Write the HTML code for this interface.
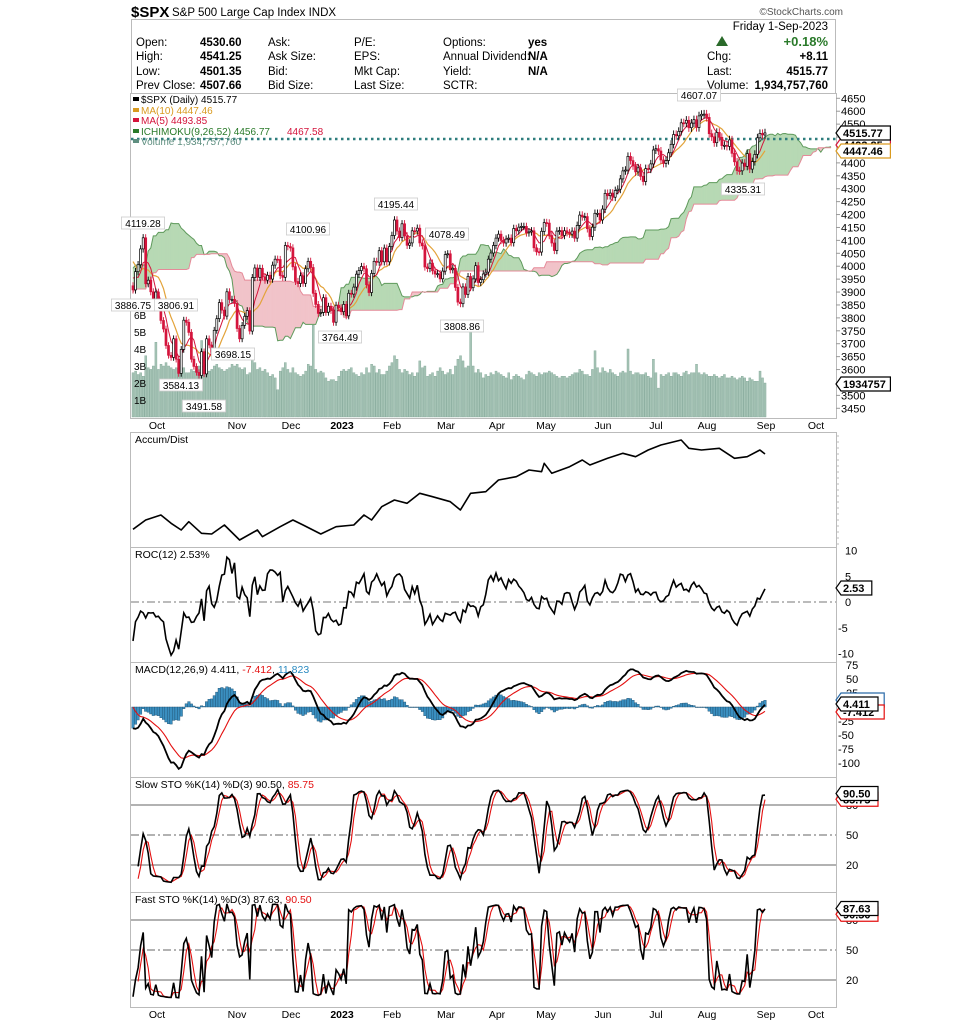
<!DOCTYPE html>
<html><head><meta charset="utf-8">
<style>
body{margin:0;background:#fff;}
svg{display:block;font-family:"Liberation Sans",sans-serif;}
</style></head>
<body>
<svg id="c" width="980" height="1021" viewBox="0 0 980 1021" xmlns="http://www.w3.org/2000/svg">
<rect width="980" height="1021" fill="#fff"/>
<g>
<text x="131" y="17" font-size="15" font-weight="bold">$SPX</text>
<text x="172" y="16" font-size="11.5">S&amp;P 500 Large Cap Index  INDX</text>
<text x="843" y="15" font-size="10" fill="#555" text-anchor="end">©StockCharts.com</text>
<rect x="131.5" y="19.5" width="704" height="74" fill="none" stroke="#bbb"/>
<g font-size="11.5">
<text x="136" y="46">Open:</text><text x="200" y="46" font-weight="bold">4530.60</text>
<text x="136" y="60">High:</text><text x="200" y="60" font-weight="bold">4541.25</text>
<text x="136" y="75">Low:</text><text x="200" y="75" font-weight="bold">4501.35</text>
<text x="136" y="89">Prev Close:</text><text x="200" y="89" font-weight="bold">4507.66</text>
<text x="268" y="46">Ask:</text><text x="268" y="60">Ask Size:</text><text x="268" y="75">Bid:</text><text x="268" y="89">Bid Size:</text>
<text x="354" y="46">P/E:</text><text x="354" y="60">EPS:</text><text x="354" y="75">Mkt Cap:</text><text x="354" y="89">Last Size:</text>
<text x="443" y="46">Options:</text><text x="443" y="60">Annual Dividend:</text><text x="443" y="75">Yield:</text><text x="443" y="89">SCTR:</text>
<text x="528" y="46" font-weight="bold">yes</text><text x="528" y="60" font-weight="bold">N/A</text><text x="528" y="75" font-weight="bold">N/A</text>
<text x="828" y="30" text-anchor="end">Friday  1-Sep-2023</text>
<polygon points="716,46 722,36 728,46" fill="#2a6a2a"/>
<text x="828" y="46" text-anchor="end" font-weight="bold" font-size="13" fill="#2a7a2a">+0.18%</text>
<text x="707" y="60">Chg:</text><text x="828" y="60" text-anchor="end" font-weight="bold">+8.11</text>
<text x="707" y="75">Last:</text><text x="828" y="75" text-anchor="end" font-weight="bold">4515.77</text>
<text x="707" y="89">Volume:</text><text x="828" y="89" text-anchor="end" font-weight="bold">1,934,757,760</text>
</g>
</g>
<g id="g"></g>
</svg>
<script>
// ---- data ----
const preCloses=[3750,3735,3790,3667,3675,3765,3760,3795,3912,3900,3821,3818,3785,3825,3831,3845,3902,3899,3854,3801,3790,3863,3830,3936,3959,3998,3962,3967,3961,3966,3921,4023,4072,4130,4118,4155,4145,4151,4140,4122,4210,4207,4280,4280,4305,4274,4283,4297,4228,4137,4128,4140,4199,4057,4030,3986,3955,4015,3966,3924];
const closes=[3908,3979,4006,4067,4110,3932,3946,3901,3873,3900,3856,3790,3757,3693,3655,3647,3719,3640,3585,
3678,3791,3783,3744,3640,3612,3589,3577,3669,3583,3719,3695,3666,3752,3797,3859,3830,3807,3901,3871,3872,
3856,3759,3719,3771,3806,3828,3749,3956,3993,3957,3992,3959,3946,3965,3950,4004,4027,4026,3964,3957,4080,
4076,4071,3998,3941,3933,3963,3934,3990,4019,3995,3895,3852,3817,3821,3878,3822,3845,3829,3783,3849,3839,
3824,3852,3808,3895,3892,3919,3969,3983,3999,3990,3928,3898,3972,4019,4016,4060,4017,4070,4017,4076,
4119,4179,4136,4111,4164,4117,4081,4090,4137,4136,4147,4090,4079,3997,3991,4012,3982,3970,3971,
3951,3981,4045,4048,3986,3992,3918,3861,3855,3920,3891,3960,3917,3951,4002,3937,3948,3970,3977,4027,4051,4080,4109,
4124,4100,4090,4105,4109,4091,4146,4137,4151,4154,4154,4129,4133,4137,4071,4056,4055,4135,4169,
4167,4119,4090,4061,4136,4138,4119,4137,4130,4124,4136,4109,4158,4198,4191,4192,4145,4115,4151,4205,4205,4179,
4221,4282,4273,4283,4267,4293,4298,4338,4369,4372,4425,4409,4388,4365,4381,4348,4328,4378,4376,4396,4450,
4455,4446,4411,4398,4409,4439,4472,4510,4505,4522,4555,4554,4565,4536,4554,4567,4537,4582,4588,4589,
4576,4513,4501,4478,4518,4499,4467,4468,4464,4489,4437,4404,4370,4369,4399,4387,4436,4376,4405,4433,4497,4514,4508,
4516];
const volumes=[2.6,2.7,2.5,2.6,2.4,3.6,2.9,2.8,3.0,4.4,2.8,3.1,3.0,3.2,3.0,2.9,2.8,2.9,3.0,
2.9,2.9,2.6,2.6,2.8,2.7,2.7,3.0,4.5,3.0,2.8,2.7,2.8,3.0,3.1,2.9,2.8,2.7,2.8,2.9,3.1,
3.0,3.1,2.9,2.8,2.9,2.5,2.6,3.6,3.2,2.8,2.9,2.7,2.8,2.6,2.4,2.5,2.3,1.6,2.7,2.9,3.2,
2.8,2.6,2.9,2.6,2.5,2.4,2.5,2.7,3.1,3.0,5.4,2.8,2.6,2.7,2.6,2.3,2.1,2.2,2.2,2.1,2.4,
2.7,2.8,2.7,2.8,2.9,2.6,2.5,2.4,2.6,2.5,2.9,2.6,3.1,3.0,2.6,2.8,2.5,2.5,2.7,3.0,
3.2,3.6,3.4,2.8,2.6,2.8,2.7,2.5,2.6,2.4,2.6,3.3,2.9,3.0,2.4,2.5,2.6,2.4,2.7,
2.9,2.7,2.5,2.6,2.8,2.5,3.0,3.4,3.6,3.3,2.9,3.0,5.1,3.0,2.6,2.8,2.6,2.3,2.5,2.4,2.6,2.5,2.7,
2.6,2.5,2.4,2.3,2.6,2.2,2.4,2.5,2.4,2.3,2.2,2.5,2.7,2.6,2.5,2.4,2.6,2.5,2.6,
2.6,2.7,2.6,2.5,2.4,2.3,2.4,2.4,2.3,2.4,2.5,2.6,2.6,2.8,2.7,2.5,2.5,2.4,2.8,3.9,2.9,2.6,
2.9,2.7,2.6,2.8,2.6,2.5,2.4,2.6,2.7,2.6,4.0,2.7,2.5,2.6,2.6,2.5,2.5,2.6,2.4,2.3,3.4,
2.6,1.7,2.5,2.4,2.5,2.6,2.4,2.6,2.6,2.5,2.4,2.6,2.7,2.5,2.6,2.6,3.1,2.6,2.5,2.6,
2.5,2.4,2.4,2.5,2.4,2.3,2.4,2.5,2.3,2.3,2.4,2.3,2.2,2.3,2.4,2.3,2.1,2.3,2.2,2.1,2.1,2.7,2.3,
2.0];
// Accum/Dist readings (bar index, value in arbitrary units)
const adBars=[0,5,11,15,19,22,27,31,36,42,49,51,58,63,67,74,80,87,91,94,98,103,108,113,118,125,129,133,139,144,151,156,161,162,165,172,177,180,187,193,198,203,208,216,219,224,231,237,242,247,249];
const adVals=[107,200,250,167,100,183,67,60,150,0,100,33,133,200,150,60,133,150,250,200,333,400,367,467,433,383,300,467,483,600,633,700,683,767,667,733,800,750,817,867,833,900,950,1000,917,900,917,817,833,900,860];
const priceTicks=[4650,4600,4550,4500,4450,4400,4350,4300,4250,4200,4150,4100,4050,4000,3950,3900,3850,3800,3750,3700,3650,3600,3550,3500,3450];
const volTicks=["1B","2B","3B","4B","5B","6B"];
const monthLabels=["Oct","Nov","Dec","2023","Feb","Mar","Apr","May","Jun","Jul","Aug","Sep","Oct"];
const monthX=[157,237,291,342,392,446,497,546,603,656,707,766,816];
const rocTicks=[10,5,0,-5,-10];
const macdTicks=[75,50,25,-25,-50,-75,-100];
const stoTicks=[80,50,20];

// ---- helpers ----
const NS="http://www.w3.org/2000/svg";
const G=document.getElementById('g');
function el(tag,attrs,parent,txt){const e=document.createElementNS(NS,tag);for(const k in attrs)e.setAttribute(k,attrs[k]);if(txt!==undefined)e.textContent=txt;(parent||G).appendChild(e);return e;}
const P=preCloses.length, N=closes.length;
const full=preCloses.concat(closes);
const F=full.length;
const O=[],H=[],L=[];
for(let i=0;i<F;i++){const o=i?full[i-1]:full[i];const c=full[i];const pad=c*0.0035;O.push(o);H.push(Math.max(o,c)+pad);L.push(Math.min(o,c)-pad);}
const s=632/(N-1);
const px=i=>133+i*s;
const py=p=>98.3+(4650-p)*0.25833;
const vy=v=>417-v*17;
const adY=v=>540-v/10;
const rocY=v=>602-v*5.15;
const macdY=v=>707-v*0.56;
const slowY=v=>865-(v-20);
const fastY=v=>980-(v-20);
function sma(a,n){return a.map((_,i)=>{if(i<n-1)return null;let t=0;for(let k=i-n+1;k<=i;k++)t+=a[k];return t/n;});}
function ema(a,n){const r=[];const k=2/(n+1);let e=null;a.forEach((v,i)=>{if(v==null){r.push(null);return;}e=e==null?v:v*k+e*(1-k);r.push(e);});return r;}
function hh(i,n){let m=-1e9;for(let k=Math.max(0,i-n+1);k<=i;k++)m=Math.max(m,H[k]);return m;}
function ll(i,n){let m=1e9;for(let k=Math.max(0,i-n+1);k<=i;k++)m=Math.min(m,L[k]);return m;}
function clip(id,x,y,w,h){const d=el('defs',{});const cp=el('clipPath',{id:id},d);el('rect',{x:x,y:y,width:w,height:h},cp);}
function linePath(vals,fx,fy){let d='';vals.forEach((v,i)=>{if(v==null)return;d+=(d?'L':'M')+fx(i).toFixed(1)+','+fy(v).toFixed(1);});return d;}

// ---- panels frames ----
const panels=[[93,418,'main-price-panel'],[432,547,'accum-dist-panel'],[547,662,'roc-panel'],[662,777,'macd-panel'],[777,892,'slow-sto-panel'],[892,1007,'fast-sto-panel']];
panels.forEach(p=>{const r=el('rect',{x:130.5,y:p[0]+0.5,width:706,height:p[1]-p[0],fill:'none',stroke:'#bbb'});

});
clip('cm',131,94,705,324);clip('ca',131,433,705,114);clip('cr',131,548,705,114);clip('cmacd',131,663,705,114);clip('cs',131,778,705,114);clip('cf',131,893,705,114);

// ---- month labels ----
[[425,'x-axis-top'],[1014,'x-axis-bottom']].forEach(r=>{
 monthLabels.forEach((m,i)=>{const t=el('text',{x:monthX[i],y:r[0]+4,'font-size':10.5,'text-anchor':'middle','font-weight':m==='2023'?'bold':'normal'},G,m);
 
 });
});

// ---- main panel ----
const gm=el('g',{'clip-path':'url(#cm)'});
const gv=el('g',{},gm);
closes.forEach((c,i)=>{const v=volumes[i]!=null?volumes[i]:2.4;const b=el('rect',{x:(px(i)-s/2+0.3).toFixed(1),y:vy(v).toFixed(1),width:(s-0.5).toFixed(2),height:(417-vy(v)).toFixed(1),fill:'#a6c4b6',stroke:'#7fa595','stroke-width':0.4},gv);

});
volTicks.forEach((t,i)=>{const e=el('text',{x:134,y:vy(i+1)+4,'font-size':10},G,t);

});
// ichimoku
const conv=[],base=[],spanA=[],spanB=[];
for(let i=0;i<F;i++){conv.push((hh(i,9)+ll(i,9))/2);base.push((hh(i,26)+ll(i,26))/2);}
for(let j=0;j<N+26;j++){const k=j+P-26;if(k<0||k>=F){spanA.push(null);spanB.push(null);continue;}spanA.push((conv[k]+base[k])/2);spanB.push((hh(k,52)+ll(k,52))/2);}
const gc=el('g',{},gm);
for(let j=0;j<N+25;j++){const a0=spanA[j],a1=spanA[j+1],b0=spanB[j],b1=spanB[j+1];if(a0==null||a1==null)continue;
 const green=(a0+a1)>=(b0+b1);
 const q=el('polygon',{points:`${px(j)},${py(a0)} ${px(j+1)},${py(a1)} ${px(j+1)},${py(b1)} ${px(j)},${py(b0)}`,fill:green?'#b7d9b4':'#f1c3c9',stroke:green?'#b7d9b4':'#f1c3c9','stroke-width':0.5},gc);
 
 }
const la=el('path',{d:linePath(spanA,px,py),fill:'none',stroke:'#5f9a5c','stroke-width':1},gm);


const lb=el('path',{d:linePath(spanB,px,py),fill:'none',stroke:'#e58a99','stroke-width':1},gm);


const dl=el('line',{x1:131,x2:836,y1:139,y2:139,stroke:'#2e7d7d','stroke-width':2.5,'stroke-dasharray':'2.5,3.5'},gm);


const ma10=sma(full,10).slice(P), ma5=sma(full,5).slice(P);
const m10=el('path',{d:linePath(ma10,px,py),fill:'none',stroke:'#e3a33a','stroke-width':1.2},gm);


const m5=el('path',{d:linePath(ma5,px,py),fill:'none',stroke:'#d4143c','stroke-width':1},gm);


closes.forEach((c,i)=>{const k=i+P;const o=O[k];const up=c>=o;const col=up?'#000':'#d4143c';const x=px(i);
 const w=el('line',{x1:x,x2:x,y1:py(H[k]).toFixed(1),y2:py(L[k]).toFixed(1),stroke:col,'stroke-width':0.9},gm);
 
 
 const top=py(Math.max(o,c)),bh=Math.max(1,py(Math.min(o,c))-top);
 const b=el('rect',{x:(x-1).toFixed(1),y:top.toFixed(1),width:2,height:bh.toFixed(1),fill:up?'#fff':col,stroke:col,'stroke-width':0.7},gm);
 
 });
priceTicks.forEach(t=>{const y=py(t);el('line',{x1:836,x2:840,y1:y,y2:y,stroke:'#999'});
 const e=el('text',{x:841,y:y+4,'font-size':11},G,t);
 
 });
const ann=[["4119.28",143,227],["3886.75",133,309],["3806.91",176,309],["3584.13",181,389],["3491.58",204,410],["3698.15",233,358],["4100.96",308,233],["3764.49",340,341],["4195.44",396,208],["4078.49",447,238],["3808.86",462,330],["4607.07",699,99],["4335.31",743,193]];
ann.forEach(a=>{const w=a[0].length*5.6+4;const r=el('rect',{x:a[1]-w/2,y:a[2]-10,width:w,height:12,fill:'#fff',stroke:'#ccc','stroke-width':0.8});
 
 
 const t=el('text',{x:a[1],y:a[2],'font-size':10,'text-anchor':'middle'},G,a[0]);
 
 });
const leg=[["$SPX (Daily) 4515.77","#000",103],["MA(10) 4447.46","#d99a20",114],["MA(5) 4493.85","#d4143c",124],["ICHIMOKU(9,26,52) 4456.77 ","#2a7a2a",135],["Volume 1,934,757,760","#5f8f80",145]];
leg.forEach(l=>{const t=el('text',{x:141,y:l[2],'font-size':10,fill:l[1]},G,l[0]);
 
 
 el('rect',{x:133,y:l[2]-6,width:6,height:4,fill:l[1]});});
el('text',{x:287,y:135,'font-size':10,fill:'#d4143c'},G,'4467.58');
function tag(y,txt,col,name,fs){const w=txt.length*6.2+6;const p=el('polygon',{points:`836,${y} 841,${y-7} ${841+w},${y-7} ${841+w},${y+7} 841,${y+7}`,fill:'#fff',stroke:col,'stroke-width':1.2});
 
 
 const t=el('text',{x:843,y:y+4,'font-size':fs||11,'font-weight':'bold'},G,txt);
 
 }
tag(145,'4493.85','#d4143c','ma5-tag');tag(151,'4447.46','#d99a20','ma10-tag');tag(133,'4515.77','#000','last-price-tag');tag(384,'1934757','#000','volume-tag');

// ---- Accum/Dist ----
let adD='';adBars.forEach((b,i)=>{adD+=(i?'L':'M')+px(b).toFixed(1)+','+adY(adVals[i]).toFixed(1);});
const adL=el('path',{d:adD,fill:'none',stroke:'#000','stroke-width':1.6,'clip-path':'url(#ca)','stroke-linejoin':'round'});


const adT=el('text',{x:135,y:443,'font-size':10.5},G,'Accum/Dist');


for(let y=436;y<547;y+=6)el('line',{x1:836,x2:839,y1:y,y2:y,stroke:'#bbb'});

// ---- ROC ----
const roc=closes.map((c,i)=>{const k=i+P;return (c/full[k-12]-1)*100;});
el('line',{x1:131,x2:836,y1:rocY(0),y2:rocY(0),stroke:'#777','stroke-dasharray':'8,3,2,3'});
const rl=el('path',{d:linePath(roc,px,rocY),fill:'none',stroke:'#000','stroke-width':1.6,'clip-path':'url(#cr)'});


rocTicks.forEach(t=>{const e=el('text',{x:t<0?838:845,y:rocY(t)+4,'font-size':11},G,t);
 
 });
const rt=el('text',{x:135,y:558,'font-size':10.5},G,'ROC(12) 2.53%');


tag(588,'2.53','#000','roc-tag');

// ---- MACD ----
const e12=ema(full,12),e26=ema(full,26);const macdFull=full.map((_,i)=>e12[i]-e26[i]);const sigFull=ema(macdFull,9);
const macd=macdFull.slice(P),sig=sigFull.slice(P);const hist=macd.map((m,i)=>m-sig[i]);
const gh=el('g',{'clip-path':'url(#cmacd)'});
hist.forEach((h,i)=>{const y0=macdY(0),y1=macdY(h);const b=el('rect',{x:(px(i)-s/2).toFixed(1),y:Math.min(y0,y1).toFixed(1),width:s.toFixed(2),height:Math.max(0.5,Math.abs(y1-y0)).toFixed(1),fill:'#3a8fc0',stroke:'#1d4f70','stroke-width':0.4},gh);
 
 });
const sl=el('path',{d:linePath(sig,px,macdY),fill:'none',stroke:'#e41010','stroke-width':1.1},gh);


const ml=el('path',{d:linePath(macd,px,macdY),fill:'none',stroke:'#000','stroke-width':1.8},gh);


macdTicks.forEach(t=>{const e=el('text',{x:t<0?838:846,y:macdY(t)+4,'font-size':11},G,t);
 
 });
const mt=el('text',{x:135,y:673,'font-size':10.5},G);


el('tspan',{},mt,'MACD(12,26,9) 4.411, ');el('tspan',{fill:'#e41010'},mt,'-7.412');el('tspan',{},mt,', ');el('tspan',{fill:'#2a8ac0'},mt,'11.823');
tag(700,'11.823','#2a6aa8','macd-hist-tag');tag(712,'-7.412','#e41010','macd-signal-tag');tag(704,'4.411','#000','macd-tag');

// ---- Stochastics ----
const fastK=closes.map((c,i)=>{const k=i+P;const h=hh(k,14),l=ll(k,14);return (c-l)/(h-l)*100;});
const fastD=sma(fastK,3);const slowK=fastD;const slowD=sma(slowK,3);
function stoPanel(K,D,fy,top,clipId,title,name,tk,td){
 stoTicks.forEach(t=>{el('line',{x1:131,x2:836,y1:fy(t),y2:fy(t),stroke:'#666','stroke-dasharray':t===50?'8,3,2,3':'none'});
  const e=el('text',{x:846,y:fy(t)+4,'font-size':11},G,t);
  
  });
 const g=el('g',{'clip-path':`url(#${clipId})`});
 const d=el('path',{d:linePath(D,px,fy),fill:'none',stroke:'#e41010','stroke-width':1.1},g);
 
 
 const k=el('path',{d:linePath(K,px,fy),fill:'none',stroke:'#000','stroke-width':1.6},g);
 
 
 const t=el('text',{x:135,y:top+11,'font-size':10.5},G);
 
 
 el('tspan',{},t,title);el('tspan',{fill:'#e41010'},t,td);
 tag(fy(85.75),td,'#e41010',name+'-d-tag');tag(fy(90.5)-1,tk,'#000',name+'-k-tag');
}
stoPanel(slowK,slowD,slowY,777,'cs','Slow STO %K(14) %D(3) 90.50, ','slow-sto','90.50','85.75');
stoPanel(fastK,fastD,fastY,892,'cf','Fast STO %K(14) %D(3) 87.63, ','fast-sto','87.63','90.50');
</script>
</body></html>
